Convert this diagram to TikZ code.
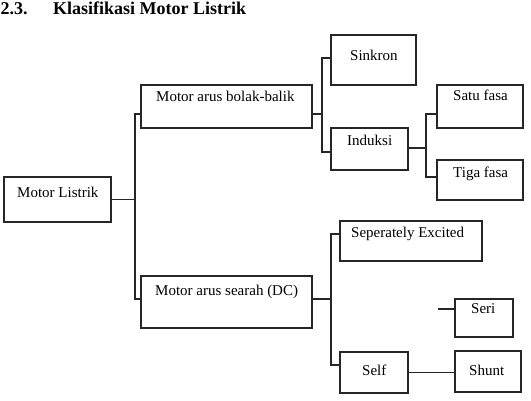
\documentclass[tikz,border=0pt]{standalone}
\usepackage{fontspec}
\setmainfont{Liberation Serif}
\begin{document}
\begin{tikzpicture}[x=1pt,y=-1pt,
  box/.style={draw=black!85, line width=1.1pt, anchor=north west, inner sep=0pt, outer sep=0pt},
  txt/.style={anchor=base west, inner sep=0pt, font=\fontsize{15}{18}\selectfont},
  ttl/.style={anchor=base west, inner sep=0pt, font=\fontsize{18}{21}\selectfont\bfseries},
  conn/.style={draw=black!85, line width=1.1pt}]
\useasboundingbox (0,0) rectangle (531,401);
% title
\node[ttl] (num) at (0.5,15) {2.3.};
\node[ttl] (title) at (53,15) {Klasifikasi Motor Listrik};
% boxes
\node[box, minimum width=107pt, minimum height=45pt] (ML) at (4,177) {};
\node[box, minimum width=171pt, minimum height=43pt] (AC) at (141,85) {};
\node[box, minimum width=85pt, minimum height=50pt] (SK) at (331,35) {};
\node[box, minimum width=77pt, minimum height=42pt] (IN) at (331,128) {};
\node[box, minimum width=86pt, minimum height=43pt] (SA) at (437,85) {};
\node[box, minimum width=86pt, minimum height=40pt] (TG) at (437,160) {};
\node[box, minimum width=171pt, minimum height=52pt] (DC) at (141,276) {};
\node[box, minimum width=142pt, minimum height=40pt] (SE) at (340,221) {};
\node[box, minimum width=58pt, minimum height=38pt] (SR) at (455,299) {};
\node[box, minimum width=68pt, minimum height=41pt] (SF) at (340,352) {};
\node[box, minimum width=66pt, minimum height=41pt] (SH) at (455,351) {};
% texts
\node[txt] (tML) at (17,198) {Motor Listrik};
\node[txt] (tAC) at (156,102) {Motor arus bolak-balik};
\node[txt] (tSK) at (350,61) {Sinkron};
\node[txt] (tIN) at (347,146) {Induksi};
\node[txt] (tSA) at (453,101) {Satu fasa};
\node[txt] (tTG) at (453,178) {Tiga fasa};
\node[txt] (tDC) at (155,296) {Motor arus searah (DC)};
\node[txt] (tSE) at (351,238) {Seperately Excited};
\node[txt] (tSR) at (471,314) {Seri};
\node[txt] (tSF) at (362,375) {Self};
\node[txt] (tSH) at (469,375) {Shunt};
% junction x-positions
\coordinate (x1) at (135,0);
\coordinate (x2) at (322,0);
\coordinate (x3) at (426,0);
\coordinate (x4) at (331,0);
\coordinate (sfree) at (438,309);
% connectors
\draw[conn] (ML.east) -- (ML.east -| x1) |- ([yshift=-7.5pt]AC.west);
\draw[conn] (ML.east -| x1) |- ([yshift=3pt]DC.west);
\draw[conn] ([yshift=-7.5pt]AC.east) -- ([yshift=-7.5pt]AC.east -| x2) |- ([yshift=2pt]SK.west);
\draw[conn] ([yshift=-7.5pt]AC.east -| x2) |- ([yshift=-3pt]IN.west);
\draw[conn] ([yshift=1pt]IN.east) -- ([yshift=1pt]IN.east -| x3) |- ([yshift=-7.5pt]SA.west);
\draw[conn] ([yshift=1pt]IN.east -| x3) |- ([yshift=3pt]TG.west);
\draw[conn] ([yshift=3pt]DC.east) -- ([yshift=3pt]DC.east -| x4) |- ([yshift=7pt]SE.west);
\draw[conn] ([yshift=3pt]DC.east -| x4) |- ([yshift=7.5pt]SF.west);
\draw[conn] (sfree) -- (sfree -| SR.west);
\draw[conn] (SF.east) -- (SF.east -| SH.west);
\end{tikzpicture}
\end{document}
